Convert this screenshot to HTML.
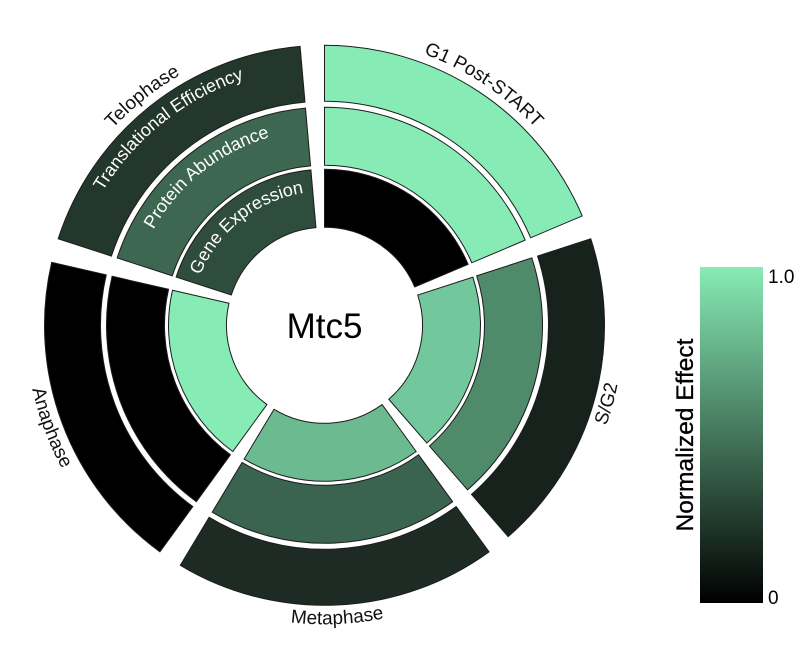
<!DOCTYPE html>
<html>
<head>
<meta charset="utf-8">
<style>
  html, body { margin: 0; padding: 0; background: #ffffff; }
  body { width: 800px; height: 650px; overflow: hidden; }
  svg { display: block; }
  text { font-family: "Liberation Sans", Arial, sans-serif; }
</style>
</head>
<body>
<svg width="800" height="650" viewBox="0 0 800 650" xmlns="http://www.w3.org/2000/svg">
  <defs>
    <linearGradient id="cbar" x1="0" y1="0" x2="0" y2="1">
      <stop offset="0" stop-color="#87EBB5"/>
      <stop offset="0.5" stop-color="#44765B"/>
      <stop offset="1" stop-color="#000000"/>
    </linearGradient>
    <!-- label paths (relative to center) -->
    <path id="lbG1" d="M0,-289 A289,289 0 0 1 266.02,-112.92"/>
    <path id="lbTelo" d="M-274.86,-89.31 A289,289 0 0 1 -25.19,-287.90"/>
    <path id="lbSG2" d="M196.16,225.66 A299,299 0 0 0 284.37,-92.40"/>
    <path id="lbMeta" d="M-154.00,256.29 A299,299 0 0 0 175.75,241.90"/>
    <path id="lbAna" d="M-291.34,-67.26 A299,299 0 0 0 -175.75,241.90"/>
    <path id="lbGene" d="M-127.44,-41.41 A134,134 0 0 1 -11.68,-133.49"/>
    <path id="lbProt" d="M-186.41,-60.57 A196,196 0 0 1 -17.08,-195.25"/>
    <path id="lbTrans" d="M-246.32,-80.04 A259,259 0 0 1 -22.57,-258.01"/>
  </defs>

  <g transform="translate(324.5,325.3)" stroke="#1c1c1c" stroke-width="1">
    <!-- G1 Post-START -->
    <path fill="#86EBB4" d="M0,-280 A280,280 0 0 1 257.74,-109.40 L206.19,-87.52 A224,224 0 0 0 0,-224 Z"/>
    <path fill="#86EBB4" d="M0,-218 A218,218 0 0 1 200.67,-85.18 L147.28,-62.52 A160,160 0 0 0 0,-160 Z"/>
    <path fill="#000000" d="M0,-156 A156,156 0 0 1 143.60,-60.95 L90.21,-38.29 A98,98 0 0 0 0,-98 Z"/>

    <!-- S/G2 -->
    <path fill="#17221C" d="M266.30,-86.53 A280,280 0 0 1 183.70,211.32 L146.96,169.06 A224,224 0 0 0 213.04,-69.22 Z"/>
    <path fill="#4F8B6B" d="M207.33,-67.37 A218,218 0 0 1 143.02,164.53 L104.97,120.75 A160,160 0 0 0 152.17,-49.44 Z"/>
    <path fill="#72C79C" d="M148.37,-48.21 A156,156 0 0 1 102.35,117.73 L64.29,73.96 A98,98 0 0 0 93.20,-30.28 Z"/>

    <!-- Metaphase -->
    <path fill="#1E2B24" d="M164.58,226.53 A280,280 0 0 1 -144.21,240.01 L-115.37,192.01 A224,224 0 0 0 131.66,181.22 Z"/>
    <path fill="#3A644F" d="M128.14,176.37 A218,218 0 0 1 -112.28,186.86 L-82.41,137.15 A160,160 0 0 0 94.05,129.44 Z"/>
    <path fill="#6CBB90" d="M91.70,126.21 A156,156 0 0 1 -80.35,133.72 L-50.47,84.00 A98,98 0 0 0 57.60,79.28 Z"/>

    <!-- Anaphase -->
    <path fill="#000000" d="M-164.58,226.53 A280,280 0 0 1 -272.82,-62.99 L-218.26,-50.39 A224,224 0 0 0 -131.66,181.22 Z"/>
    <path fill="#000000" d="M-128.14,176.37 A218,218 0 0 1 -212.41,-49.04 L-155.90,-35.99 A160,160 0 0 0 -94.05,129.44 Z"/>
    <path fill="#86EBB4" d="M-91.70,126.21 A156,156 0 0 1 -152.00,-35.09 L-95.49,-22.05 A98,98 0 0 0 -57.60,79.28 Z"/>

    <!-- Telophase -->
    <path fill="#24372D" d="M-266.30,-86.53 A280,280 0 0 1 -24.40,-278.93 L-19.52,-223.15 A224,224 0 0 0 -213.04,-69.22 Z"/>
    <path fill="#3E6752" d="M-207.33,-67.37 A218,218 0 0 1 -19.00,-217.17 L-13.95,-159.39 A160,160 0 0 0 -152.17,-49.44 Z"/>
    <path fill="#2F4D3D" d="M-148.37,-48.21 A156,156 0 0 1 -13.60,-155.41 L-8.54,-97.63 A98,98 0 0 0 -93.20,-30.28 Z"/>
  </g>

  <g transform="translate(324.5,325.3)">
    <!-- outer phase labels -->
    <text font-size="19" fill="#111"><textPath href="#lbG1" startOffset="50%" text-anchor="middle">G1 Post-START</textPath></text>
    <text font-size="19" fill="#111"><textPath href="#lbTelo" startOffset="50%" text-anchor="middle">Telophase</textPath></text>
    <text font-size="19" fill="#111"><textPath href="#lbSG2" startOffset="50%" text-anchor="middle">S/G2</textPath></text>
    <text font-size="19" fill="#111"><textPath href="#lbMeta" startOffset="50%" text-anchor="middle">Metaphase</textPath></text>
    <text font-size="19" fill="#111"><textPath href="#lbAna" startOffset="50%" text-anchor="middle">Anaphase</textPath></text>

    <!-- ring labels -->
    <text font-size="18" fill="#ffffff"><textPath href="#lbGene" startOffset="50%" text-anchor="middle">Gene Expression</textPath></text>
    <text font-size="18" fill="#ffffff"><textPath href="#lbProt" startOffset="50%" text-anchor="middle">Protein Abundance</textPath></text>
    <text font-size="18" fill="#ffffff"><textPath href="#lbTrans" startOffset="50%" text-anchor="middle">Translational Efficiency</textPath></text>

    <!-- center -->
    <text x="0" y="12.7" font-size="35" fill="#000" text-anchor="middle">Mtc5</text>
  </g>

  <!-- colorbar legend -->
  <rect x="700" y="267" width="63" height="336" fill="url(#cbar)"/>
  <text x="768" y="283" font-size="19" fill="#000">1.0</text>
  <text x="768" y="604" font-size="19" fill="#000">0</text>
  <text transform="translate(693,435) rotate(-90)" font-size="24.5" fill="#000" stroke="#000" stroke-width="0.3" text-anchor="middle">Normalized Effect</text>
</svg>
</body>
</html>
